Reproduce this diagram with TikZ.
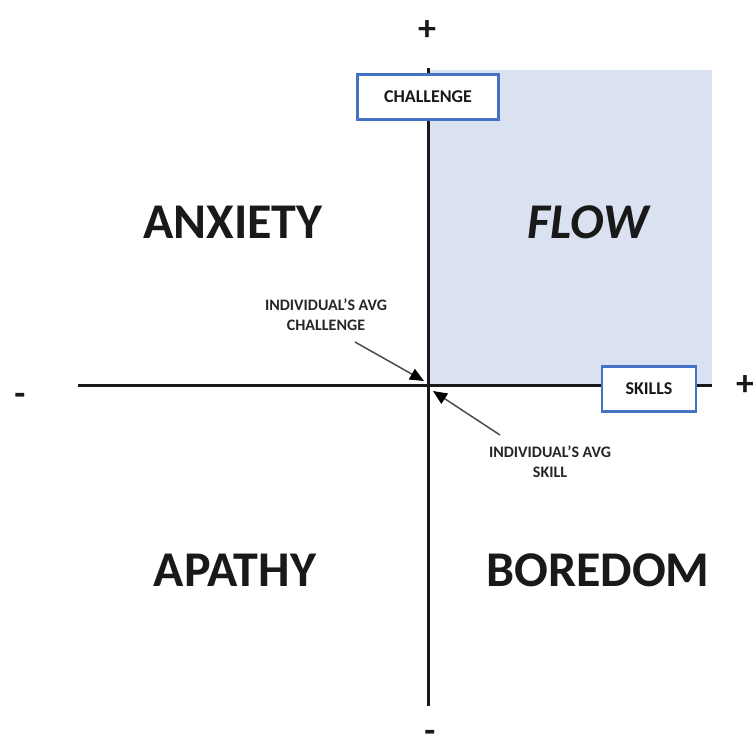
\documentclass[tikz,border=0pt]{standalone}
\usepackage{fontspec}
\setmainfont{Carlito}
\usetikzlibrary{arrows.meta}
\definecolor{flowfill}{HTML}{DAE2F2}
\definecolor{boxblue}{HTML}{4472C4}
\tikzset{
  axis/.style={line width=3pt, black!90},
  quadrant/.style={font=\fontsize{50}{50}\selectfont\bfseries, text=black!90},
  axislabel/.style={draw=boxblue, line width=2.8pt, fill=white, font=\fontsize{18}{18}\selectfont\bfseries,
    text=black!90, minimum height=45pt, inner sep=0pt},
  note/.style={font=\fontsize{16}{20}\selectfont\bfseries, align=center, text=black!85},
  sign/.style={font=\fontsize{36}{36}\selectfont\bfseries, text=black!90},
  pointer/.style={line width=1.5pt, black!70, -{Triangle[length=14pt,width=12pt,color=black]}}
}
\begin{document}
\begin{tikzpicture}[x=1pt,y=-1pt]
  \useasboundingbox (0,0) rectangle (753,744);
  % shaded flow quadrant
  \fill[flowfill] (428,70) rectangle (712,385);
  % axes
  \coordinate (top) at (428,68);
  \coordinate (bottom) at (428,706);
  \coordinate (left) at (78,385);
  \coordinate (right) at (712,385);
  \coordinate (origin) at (428,385);
  \draw[axis] (top) -- (bottom);
  \draw[axis] (left) -- (right);
  % axis end signs
  \node[sign] (plustop) at (427,31) {+};
  \node[sign] (plusright) at (745,386) {+};
  \node[sign] (minusleft) at (20,399) {-};
  \node[sign, inner sep=0pt, anchor=south] (minusbottom) at (430,743) {-};
  % axis labels
  \node[axislabel, minimum width=141pt] (challenge) at (428,97) {CHALLENGE};
  \node[axislabel, minimum width=94pt] (skills) at (649,389) {SKILLS};
  % quadrant names
  \node[quadrant] (anxiety) at (233,222) {ANXIETY};
  \node[quadrant, font=\fontsize{50}{50}\selectfont\bfseries\itshape] (flow) at (588,222) {FLOW};
  \node[quadrant] (apathy) at (235,570) {APATHY};
  \node[quadrant] (boredom) at (598,570) {BOREDOM};
  % averages
  \node[note] (avgchal) at (326,315) {INDIVIDUAL’S AVG\\CHALLENGE};
  \node[note] (avgskill) at (550,462) {INDIVIDUAL’S AVG\\SKILL};
  \coordinate (chaltail) at (355,342);
  \coordinate (chalhead) at (424,381);
  \coordinate (skilltail) at (500,435);
  \coordinate (skillhead) at (433,391);
  \draw[pointer] (chaltail) -- (chalhead);
  \draw[pointer] (skilltail) -- (skillhead);
\end{tikzpicture}
\end{document}
